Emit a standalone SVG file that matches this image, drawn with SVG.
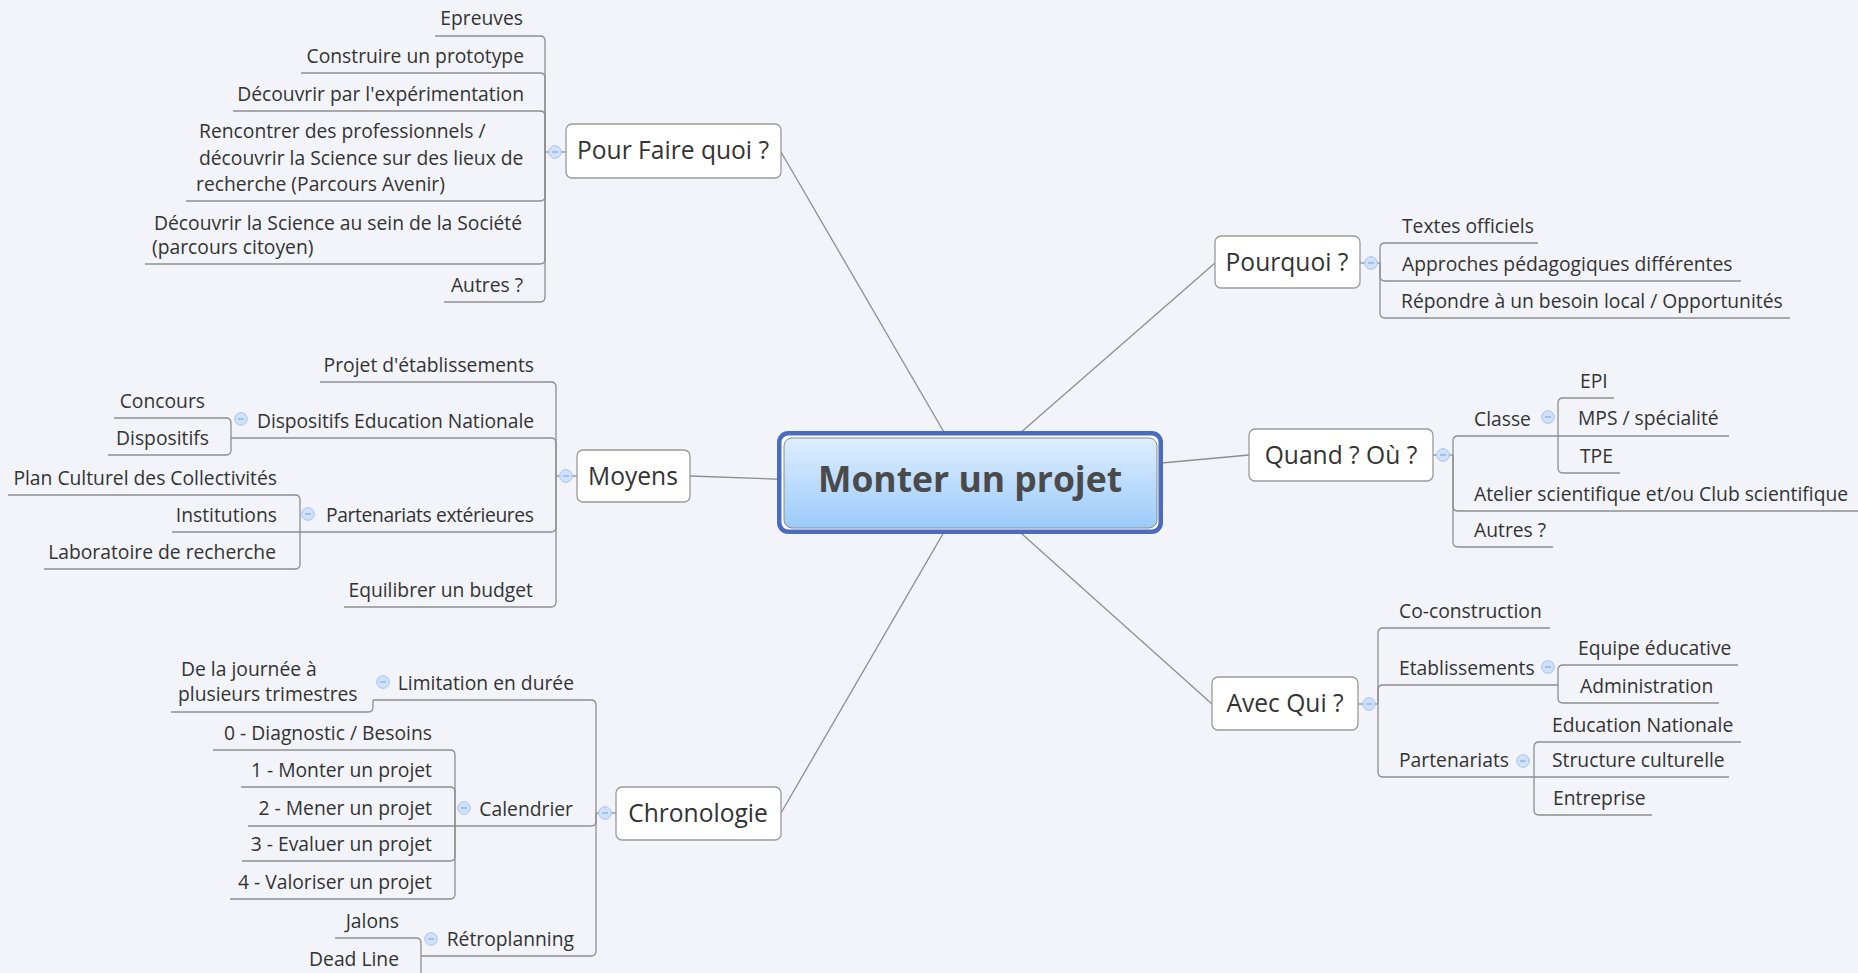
<svg xmlns="http://www.w3.org/2000/svg" width="1858" height="973" viewBox="0 0 1858 973">
<defs>
<linearGradient id="cg" x1="0" y1="0" x2="0" y2="1">
<stop offset="0" stop-color="#deeefe"/>
<stop offset="1" stop-color="#9ccbfa"/>
</linearGradient>
<g id="col"><circle r="6.3" fill="#d0e1fa" stroke="#a6c2f0" stroke-width="1"/><line x1="-3" y1="0" x2="3" y2="0" stroke="#85a9e6" stroke-width="1.2"/></g>
</defs>
<style>
text{font-family:"Open Sans","Noto Sans","DejaVu Sans",sans-serif;font-size:19.3px;fill:#333}
.e{text-anchor:end}
.m{text-anchor:middle;font-size:24.6px}
.box{fill:#fff;stroke:#9a9a9a;stroke-width:1.3}
.cn path,.cn line{fill:none;stroke:#8e8e8e;stroke-width:1.3}
</style>
<rect width="1858" height="973" fill="#f2f4f9"/>
<g id="connectors" class="cn">
<line x1="973" y1="482" x2="781" y2="152"/>
<line x1="800" y1="480" x2="690" y2="476"/>
<line x1="973" y1="482" x2="781" y2="813"/>
<line x1="964" y1="482" x2="1215" y2="263"/>
<line x1="1140" y1="465" x2="1249" y2="455"/>
<line x1="964" y1="482" x2="1212" y2="704"/>
<path d="M566 152 H545"/>
<path d="M545 152 V41 Q545 36 540 36 H435"/>
<path d="M545 152 V78 Q545 73 540 73 H301"/>
<path d="M545 152 V116 Q545 111 540 111 H233"/>
<path d="M545 152 V196 Q545 201 540 201 H186"/>
<path d="M545 152 V259 Q545 264 540 264 H145"/>
<path d="M545 152 V297 Q545 302 540 302 H444"/>
<path d="M577 476 H556"/>
<path d="M556 476 V387 Q556 382 551 382 H320"/>
<path d="M556 476 V443 Q556 438 551 438 H231"/>
<path d="M556 476 V527 Q556 532 551 532 H300"/>
<path d="M556 476 V602 Q556 607 551 607 H344"/>
<path d="M231 438 V423 Q231 418 226 418 H114"/>
<path d="M231 438 V450 Q231 455 226 455 H108"/>
<path d="M300 532 V500 Q300 495 295 495 H8"/>
<path d="M300 532 H172"/>
<path d="M300 532 V564 Q300 569 295 569 H44"/>
<path d="M616 813 H596"/>
<path d="M596 813 V705 Q596 700 591 700 H373"/>
<path d="M596 813 V821 Q596 826 591 826 H455"/>
<path d="M596 813 V951 Q596 956 591 956 H421"/>
<path d="M373 700 V707 Q373 712 368 712 H171"/>
<path d="M455 826 V755 Q455 750 450 750 H213"/>
<path d="M455 826 V792 Q455 787 450 787 H241"/>
<path d="M455 826 H248"/>
<path d="M455 826 V856 Q455 861 450 861 H242"/>
<path d="M455 826 V894 Q455 899 450 899 H230"/>
<path d="M421 956 V943 Q421 938 416 938 H335"/>
<path d="M421 956 V972 Q421 977 416 977 H300"/>
<path d="M1360 263 H1380"/>
<path d="M1380 263 V248 Q1380 243 1385 243 H1538"/>
<path d="M1380 263 V276 Q1380 281 1385 281 H1741"/>
<path d="M1380 263 V313 Q1380 318 1385 318 H1790"/>
<path d="M1433 455 H1453"/>
<path d="M1453 455 V441 Q1453 436 1458 436 H1558"/>
<path d="M1453 455 V506 Q1453 511 1458 511 H1858"/>
<path d="M1453 455 V542 Q1453 547 1458 547 H1553"/>
<path d="M1558 436 V403 Q1558 398 1563 398 H1614"/>
<path d="M1558 436 H1729"/>
<path d="M1558 436 V468 Q1558 473 1563 473 H1620"/>
<path d="M1358 704 H1378"/>
<path d="M1378 704 V633 Q1378 628 1383 628 H1550"/>
<path d="M1378 704 V690 Q1378 685 1383 685 H1558"/>
<path d="M1378 704 V772 Q1378 777 1383 777 H1534"/>
<path d="M1558 685 V670 Q1558 665 1563 665 H1738"/>
<path d="M1558 685 V698 Q1558 703 1563 703 H1719"/>
<path d="M1534 777 V747 Q1534 742 1539 742 H1741"/>
<path d="M1534 777 H1729"/>
<path d="M1534 777 V810 Q1534 815 1539 815 H1652"/>
</g>
<g id="central">
<rect x="779.25" y="433.25" width="381.5" height="98.5" rx="9" fill="#fff" stroke="#4a6cc0" stroke-width="4.5"/>
<rect x="784" y="438" width="373" height="90" rx="8" fill="url(#cg)" stroke="#8a8a8a" stroke-width="1"/>
<text x="970" y="492" text-anchor="middle" style="font-size:35.5px;font-weight:bold;fill:#4a4a4a">Monter un projet</text>
</g>
<g id="pourfaire">
<rect class="box" x="566" y="124" width="215" height="54" rx="6"/>
<text class="m" x="673" y="159">Pour Faire quoi ?</text>
<use href="#col" x="555" y="152"/>
</g>
<g id="pf-children">
<text class="e" x="523" y="25">Epreuves</text>
<text class="e" x="524" y="62.5">Construire un prototype</text>
<text class="e" x="524" y="100.5">Découvrir par l'expérimentation</text>
<text x="199" y="138">Rencontrer des professionnels /</text>
<text x="199" y="164.5">découvrir la Science sur des lieux de</text>
<text x="196" y="190.5">recherche (Parcours Avenir)</text>
<text x="154" y="230">Découvrir la Science au sein de la Société</text>
<text x="152" y="253.5">(parcours citoyen)</text>
<text class="e" x="523" y="291.5">Autres ?</text>
</g>
<g id="moyens">
<rect class="box" x="577" y="450" width="113" height="52" rx="6"/>
<text class="m" x="633" y="485">Moyens</text>
<use href="#col" x="566" y="476"/>
</g>
<g id="moyens-children">
<text class="e" x="534" y="371.5">Projet d'établissements</text>
<text class="e" x="534" y="427.5" textLength="277">Dispositifs Education Nationale</text>
<use href="#col" x="241" y="419"/>
<text class="e" x="205" y="408">Concours</text>
<text class="e" x="209" y="445">Dispositifs</text>
<text class="e" x="534" y="521.5" textLength="208">Partenariats extérieures</text>
<use href="#col" x="308" y="514"/>
<text class="e" x="277" y="485">Plan Culturel des Collectivités</text>
<text class="e" x="277" y="521.5">Institutions</text>
<text class="e" x="276" y="559">Laboratoire de recherche</text>
<text class="e" x="533" y="596.5">Equilibrer un budget</text>
</g>
<g id="chronologie">
<rect class="box" x="616" y="787" width="165" height="53" rx="6"/>
<text class="m" x="698" y="822">Chronologie</text>
<use href="#col" x="605" y="813"/>
</g>
<g id="chrono-children">
<text class="e" x="574" y="689.5">Limitation en durée</text>
<use href="#col" x="383" y="682"/>
<text x="181" y="676">De la journée à</text>
<text x="178" y="701">plusieurs trimestres</text>
<text class="e" x="573" y="815.5">Calendrier</text>
<use href="#col" x="464" y="808"/>
<text class="e" x="432" y="739.5">0 - Diagnostic / Besoins</text>
<text class="e" x="432" y="776.5">1 - Monter un projet</text>
<text class="e" x="432" y="814.5">2 - Mener un projet</text>
<text class="e" x="432" y="850.5">3 - Evaluer un projet</text>
<text class="e" x="432" y="888.5">4 - Valoriser un projet</text>
<text class="e" x="574" y="945.5">Rétroplanning</text>
<use href="#col" x="431" y="939"/>
<text class="e" x="399" y="927.5">Jalons</text>
<text class="e" x="399" y="966">Dead Line</text>
</g>
<g id="pourquoi">
<rect class="box" x="1215" y="236" width="145" height="52" rx="6"/>
<text class="m" x="1287" y="271">Pourquoi ?</text>
<use href="#col" x="1371" y="263"/>
</g>
<g id="pourquoi-children">
<text x="1402" y="232.5">Textes officiels</text>
<text x="1402" y="270.5">Approches pédagogiques différentes</text>
<text x="1401" y="307.5">Répondre à un besoin local / Opportunités</text>
</g>
<g id="quand">
<rect class="box" x="1249" y="429" width="184" height="52" rx="6"/>
<text class="m" x="1341" y="464">Quand ? Où ?</text>
<use href="#col" x="1443" y="455"/>
</g>
<g id="quand-children">
<text x="1474" y="425.5">Classe</text>
<use href="#col" x="1548" y="417"/>
<text x="1580" y="387.5">EPI</text>
<text x="1578" y="424.5">MPS / spécialité</text>
<text x="1580" y="462.5">TPE</text>
<text x="1474" y="500.5">Atelier scientifique et/ou Club scientifique</text>
<text x="1474" y="537">Autres ?</text>
</g>
<g id="avecqui">
<rect class="box" x="1212" y="677" width="146" height="53" rx="6"/>
<text class="m" x="1285" y="712">Avec Qui ?</text>
<use href="#col" x="1369" y="704"/>
</g>
<g id="avecqui-children">
<text x="1399" y="618">Co-construction</text>
<text x="1399" y="675">Etablissements</text>
<use href="#col" x="1548" y="667"/>
<text x="1578" y="654.5">Equipe éducative</text>
<text x="1580" y="692.5">Administration</text>
<text x="1399" y="767">Partenariats</text>
<use href="#col" x="1523" y="761"/>
<text x="1552" y="731.5">Education Nationale</text>
<text x="1552" y="767">Structure culturelle</text>
<text x="1553" y="805">Entreprise</text>
</g>
</svg>
